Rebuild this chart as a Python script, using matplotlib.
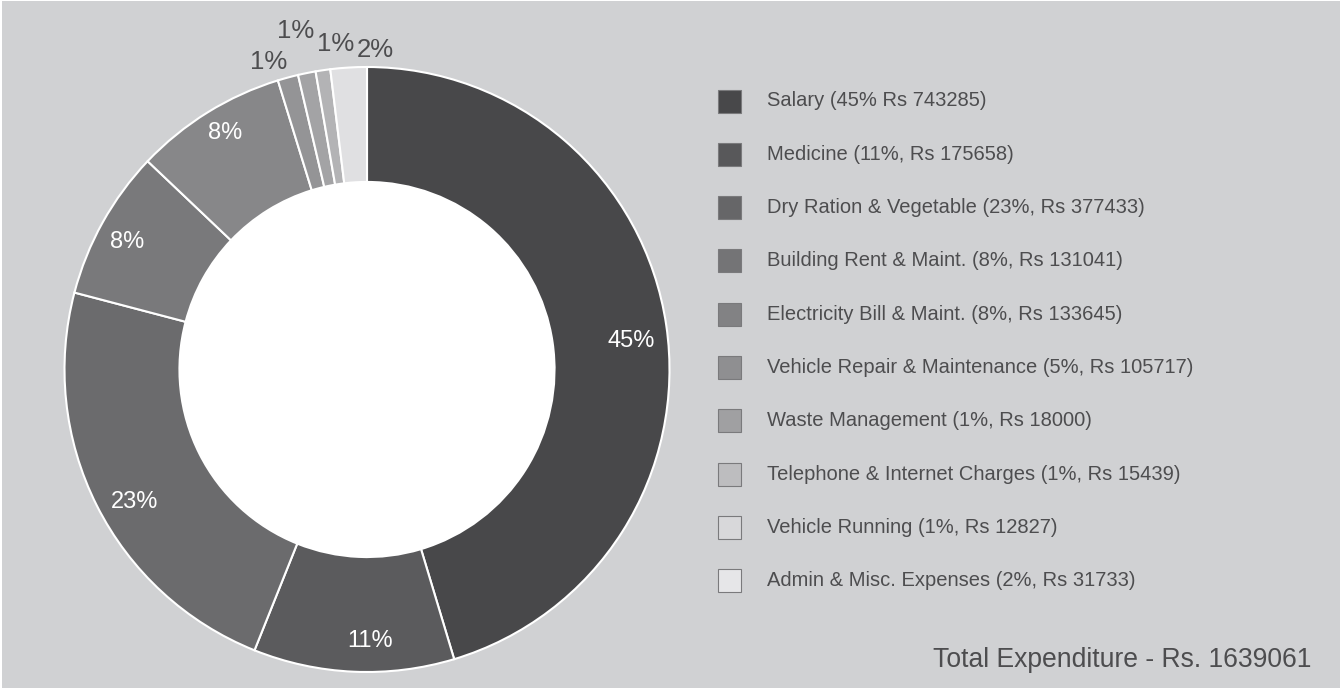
import numpy as np
import matplotlib
matplotlib.use("Agg")
import matplotlib.pyplot as plt
from matplotlib.patches import Rectangle

# ---- data ----
categories = ["Salary", "Medicine", "Dry Ration & Vegetable", "Building Rent & Maint.",
              "Electricity Bill & Maint.", "Vehicle Repair & Maintenance", "Waste Management",
              "Telephone & Internet Charges", "Vehicle Running", "Admin & Misc. Expenses"]
amounts = [743285, 175658, 377433, 131041, 133645, 105717, 18000, 15439, 12827, 31733]
legend_labels = [
    "Salary (45% Rs 743285)",
    "Medicine (11%, Rs 175658)",
    "Dry Ration & Vegetable (23%, Rs 377433)",
    "Building Rent & Maint. (8%, Rs 131041)",
    "Electricity Bill & Maint. (8%, Rs 133645)",
    "Vehicle Repair & Maintenance (5%, Rs 105717)",
    "Waste Management (1%, Rs 18000)",
    "Telephone & Internet Charges (1%, Rs 15439)",
    "Vehicle Running (1%, Rs 12827)",
    "Admin & Misc. Expenses (2%, Rs 31733)",
]
legend_colors = ["#48484a", "#58585a", "#666668", "#747476", "#828284",
                 "#8f8f91", "#a0a0a2", "#bdbdbf", "#d8d8da", "#e6e6e8"]
# the donut shows every category except Vehicle Repair
pie_categories = ["Salary", "Medicine", "Dry Ration & Vegetable", "Building Rent & Maint.",
                  "Electricity Bill & Maint.", "Waste Management",
                  "Telephone & Internet Charges", "Vehicle Running", "Admin & Misc. Expenses"]
pie_values = [743285, 175658, 377433, 131041, 133645, 18000, 15439, 12827, 31733]
pie_labels = ["45%", "11%", "23%", "8%", "8%", "1%", "1%", "1%", "2%"]
pie_colors = ["#48484a", "#5b5b5d", "#6b6b6d", "#79797b", "#878789",
              "#949496", "#a3a3a5", "#b3b3b5", "#e0e0e2"]
total_text = "Total Expenditure - Rs. 1639061"

BG = "#d0d1d3"
TXT = "#4d4d4f"
W, H = 1340, 688

plt.rcParams['font.family'] = ['Liberation Sans', 'DejaVu Sans']

fig = plt.figure(figsize=(W / 100, H / 100), dpi=100)
fig.patch.set_facecolor("white")
# gray panel (thin white edge at left/top as in reference)
bg = fig.add_axes([2 / W, 0, 1 - 2 / W, 1 - 1 / H], zorder=-10)
bg.set_facecolor(BG)
bg.set_xticks([])
bg.set_yticks([])
for s in bg.spines.values():
    s.set_visible(False)

# ---- donut ----
cx, cy, R = 367, 369.5, 302.5
ax = fig.add_axes([(cx - R) / W, (H - cy - R) / H, 2 * R / W, 2 * R / H], zorder=1)
ax.set_facecolor("none")
ax.axis("off")
inner = 0.62
wedges, _ = ax.pie(pie_values, colors=pie_colors, startangle=90, counterclock=False,
                   radius=1.0, wedgeprops=dict(width=1 - inner, edgecolor="white", linewidth=1.5))
ax.add_patch(plt.Circle((0, 0), inner, facecolor="white", edgecolor="none", zorder=5))
ax.set_xlim(-1, 1)
ax.set_ylim(-1, 1)
ax.set_aspect("equal")

# label placement: (radius, angular nudge in degrees from the wedge middle)
label_pos = [(0.877, -2.2), (0.898, 3.2), (0.883, 3.0), (0.898, 1.2), (0.912, -0.8),
             (1.068, 2.6), (1.144, 0.5), (1.081, -2.8), (1.056, -4.9)]
for w, lab, val, (r, nudge) in zip(wedges, pie_labels, pie_values, label_pos):
    mid = (w.theta1 + w.theta2) / 2
    ang = np.deg2rad(mid + nudge)
    inside = r < 1
    ax.text(r * np.cos(ang), r * np.sin(ang), lab, ha="center", va="center",
            color="white" if inside else TXT, fontsize=17 if inside else 18.5,
            zorder=6, clip_on=False)

# ---- legend (manual) ----
x_sq, sq = 718, 23
x_txt = 767
y0, dy = 101, 53.3
for i, (lab, col) in enumerate(zip(legend_labels, legend_colors)):
    yc = y0 + i * dy
    fig.patches.append(Rectangle((x_sq / W, (H - yc - sq / 2) / H), sq / W, sq / H,
                                 transform=fig.transFigure, facecolor=col,
                                 edgecolor="#7a7a7c", linewidth=0.8, zorder=2))
    fig.text(x_txt / W, (H - yc) / H, lab, ha="left", va="center", fontsize=14.5,
             color=TXT)

fig.text(1311 / W, (H - 660) / H, total_text, ha="right", va="center", fontsize=19.1,
         color=TXT)

fig.savefig("out.png", dpi=100, facecolor=fig.get_facecolor())
